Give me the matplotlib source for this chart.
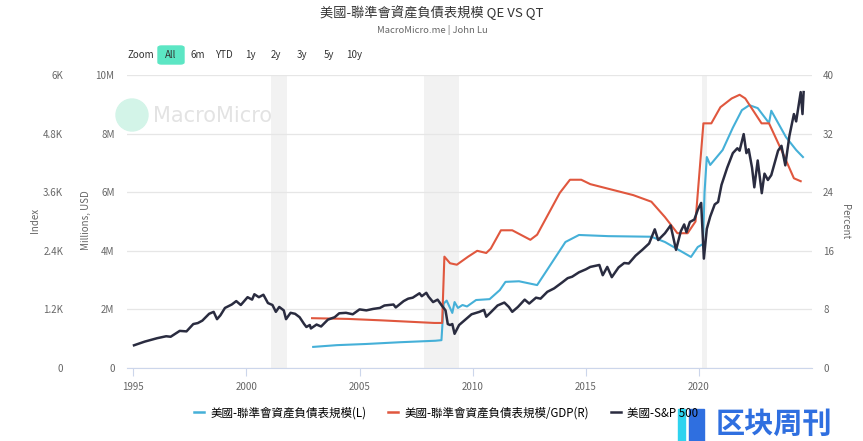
import matplotlib
matplotlib.use("Agg")
import matplotlib.pyplot as plt
from matplotlib.patches import Rectangle, Ellipse, FancyBboxPatch
from matplotlib.lines import Line2D
from matplotlib.ticker import FixedLocator

plt.rcParams["font.family"] = ["Noto Sans CJK TC", "DejaVu Sans"]

# S&P 500 (Index, left outer axis)
sp_years = [1995.03, 1995.5, 1996.05, 1996.45, 1996.65, 1997.05, 1997.35, 1997.65, 1997.85,
            1998.05, 1998.35, 1998.55, 1998.7, 1998.85, 1999.05, 1999.35, 1999.55, 1999.75,
            2000.05, 2000.25, 2000.35, 2000.55, 2000.75, 2000.95, 2001.15, 2001.3, 2001.45,
            2001.65, 2001.75, 2001.95, 2002.15, 2002.35, 2002.55, 2002.65, 2002.8, 2002.85,
            2003.1, 2003.3, 2003.6, 2003.9, 2004.1, 2004.4, 2004.7, 2005.0, 2005.3, 2005.6,
            2005.9, 2006.1, 2006.5, 2006.6, 2006.95, 2007.15, 2007.35, 2007.65, 2007.75,
            2007.95, 2008.05, 2008.25, 2008.45, 2008.65, 2008.8, 2008.9, 2009.0, 2009.1,
            2009.2, 2009.4, 2009.65, 2009.95, 2010.3, 2010.5, 2010.6, 2010.8, 2011.1, 2011.4,
            2011.6, 2011.75, 2012.0, 2012.3, 2012.5, 2012.8, 2013.0, 2013.3, 2013.6, 2013.95,
            2014.2, 2014.4, 2014.7, 2015.0, 2015.2, 2015.6, 2015.75, 2015.95, 2016.15, 2016.45,
            2016.7, 2016.9, 2017.2, 2017.5, 2017.8, 2018.05, 2018.2, 2018.5, 2018.75, 2018.99,
            2019.2, 2019.35, 2019.45, 2019.6, 2019.8, 2019.95, 2020.1, 2020.22, 2020.35, 2020.5,
            2020.7, 2020.85, 2021.0, 2021.25, 2021.5, 2021.7, 2021.8, 2021.98, 2022.1, 2022.2,
            2022.35, 2022.45, 2022.6, 2022.78, 2022.9, 2023.05, 2023.2, 2023.5, 2023.65,
            2023.82, 2024.0, 2024.2, 2024.3, 2024.5, 2024.58, 2024.63]
sp_vals = [465, 540, 610, 650, 640, 760, 750, 900, 920,
           970, 1110, 1150, 1000, 1080, 1230, 1300, 1370, 1290,
           1450, 1400, 1510, 1450, 1500, 1330, 1290, 1150, 1250,
           1180, 1000, 1130, 1110, 1040, 900, 840, 880, 810,
           890, 850, 990, 1040, 1120, 1130, 1100, 1200, 1180, 1210,
           1230, 1280, 1300, 1240, 1370, 1420, 1440, 1530, 1470,
           1540, 1460, 1350, 1400, 1270, 1180, 900, 880, 900,
           700, 880, 980, 1100, 1150, 1190, 1050, 1140, 1280, 1340,
           1250, 1150, 1250, 1400, 1320, 1440, 1420, 1560, 1630, 1750,
           1840, 1870, 1960, 2020, 2070, 2110, 1900, 2070, 1860, 2060,
           2150, 2140, 2300, 2420, 2550, 2840, 2620, 2760, 2920, 2420,
           2800, 2940, 2780, 2990, 3040, 3240, 3380, 2240, 2850, 3100,
           3350, 3400, 3750, 4100, 4400, 4500, 4450, 4790, 4400, 4480,
           4100, 3700, 4250, 3580, 3980, 3850, 3950, 4450, 4550,
           4150, 4750, 5200, 5050, 5650, 5200, 5650]

# Fed balance sheet size (millions USD, left inner axis)
fed_years = [2002.95, 2004.0, 2005.3, 2006.8, 2008.35, 2008.62, 2008.72, 2008.85, 2009.0,
             2009.1, 2009.2, 2009.35, 2009.55, 2009.75, 2010.15, 2010.75, 2011.2, 2011.45,
             2012.05, 2012.85, 2013.2, 2014.1, 2014.7, 2016.0, 2017.9, 2018.5, 2019.65,
             2019.95, 2020.18, 2020.25, 2020.35, 2020.5, 2021.05, 2021.5, 2021.9, 2022.23,
             2022.6, 2023.1, 2023.2, 2023.85, 2024.3, 2024.6]
fed_vals = [0.72e6, 0.78e6, 0.82e6, 0.88e6, 0.93e6, 0.95e6, 2.2e6, 2.3e6, 2.05e6,
            1.88e6, 2.25e6, 2.05e6, 2.15e6, 2.1e6, 2.32e6, 2.35e6, 2.66e6, 2.94e6,
            2.96e6, 2.83e6, 3.24e6, 4.3e6, 4.54e6, 4.5e6, 4.48e6, 4.3e6, 3.79e6,
            4.13e6, 4.23e6, 6.0e6, 7.2e6, 6.93e6, 7.44e6, 8.2e6, 8.8e6, 8.97e6,
            8.87e6, 8.36e6, 8.78e6, 7.88e6, 7.44e6, 7.2e6]

# Fed balance sheet / GDP (percent, right axis)
gdp_years = [2002.9, 2004.5, 2006.0, 2008.3, 2008.65, 2008.75, 2009.0, 2009.3, 2009.8,
             2010.2, 2010.6, 2010.8, 2011.25, 2011.75, 2012.55, 2012.85, 2013.85, 2014.3,
             2014.8, 2015.2, 2017.1, 2017.9, 2018.5, 2019.05, 2019.5, 2019.85, 2020.2,
             2020.55, 2020.95, 2021.45, 2021.8, 2022.05, 2022.77, 2023.1, 2023.7, 2024.2,
             2024.5]
gdp_vals = [6.8, 6.7, 6.5, 6.15, 6.15, 15.2, 14.3, 14.1, 15.2,
            16.0, 15.7, 16.3, 18.8, 18.8, 17.5, 18.2, 23.9, 25.7,
            25.7, 25.1, 23.6, 22.7, 20.6, 18.4, 18.4, 20.0, 33.4,
            33.4, 35.6, 36.8, 37.3, 36.8, 33.4, 33.4, 29.4, 25.9,
            25.5]

recessions = [(2001.1, 2001.8), (2007.85, 2009.4), (2020.12, 2020.36)]
year_ticks = [1995, 2000, 2005, 2010, 2015, 2020]

label_names = ["美國-聯準會資產負債表規模(L)", "美國-聯準會資產負債表規模/GDP(R)", "美國-S&P 500"]
c_blue = "#45b0d8"
c_red = "#e0573e"
c_dark = "#2a2c40"
grey = "#666666"

fig = plt.figure(figsize=(8.63, 4.41), dpi=100)
W, H = 863, 441
ax = fig.add_axes([127 / W, 1 - 368 / H, 685 / W, 293 / H])
ax_pct = ax.twinx()
ax_idx = ax.twinx()

for a in (ax, ax_pct, ax_idx):
    for s in a.spines.values():
        s.set_visible(False)
    a.set_xlim(1994.72, 2025.0)

for lo, hi in recessions:
    ax.axvspan(lo, hi, color="#f2f2f2", zorder=0, lw=0)

ax.set_ylim(0, 10e6)
ax.yaxis.set_major_locator(FixedLocator([0, 2e6, 4e6, 6e6, 8e6, 10e6]))
ax.set_yticklabels(["0", "2M", "4M", "6M", "8M", "10M"])
ax.grid(axis="y", color="#e6e6e6", lw=0.9, zorder=1)
ax.set_axisbelow(True)
ax.tick_params(axis="y", length=0, pad=9, labelsize=7, labelcolor=grey)
ax.spines["bottom"].set_visible(True)
ax.spines["bottom"].set_color("#ccd6eb")
ax.set_xticks(year_ticks)
ax.set_xticklabels([str(y) for y in year_ticks])
ax.tick_params(axis="x", length=6, color="#ccd6eb", labelsize=7, labelcolor=grey, pad=4)

ax_pct.set_ylim(0, 40)
ax_pct.set_yticks([0, 8, 16, 24, 32, 40])
ax_pct.tick_params(axis="y", length=0, pad=8, labelsize=7, labelcolor=grey)

ax_idx.set_ylim(0, 6000)
ax_idx.set_yticks([0, 1200, 2400, 3600, 4800, 6000])
ax_idx.set_yticklabels(["0", "1.2K", "2.4K", "3.6K", "4.8K", "6K"])
ax_idx.yaxis.tick_left()
ax_idx.tick_params(axis="y", length=0, pad=46, labelsize=7, labelcolor=grey)

ax.plot(fed_years, fed_vals, color=c_blue, lw=1.5, zorder=3)
ax_pct.plot(gdp_years, gdp_vals, color=c_red, lw=1.5)
ax_idx.plot(sp_years, sp_vals, color=c_dark, lw=1.8)

# watermark
fig.patches.append(Ellipse((132 / W, 1 - 115 / H), 32 / W, 32 / H, transform=fig.transFigure,
                           color="#d3f4e8", zorder=0))
fig.text(153 / W, 1 - 116 / H, "MacroMicro", fontsize=15, color="#e3e3e3",
         va="center", ha="left", family="DejaVu Sans")

# titles
fig.text(432 / W, 1 - 13 / H, "美國-聯準會資產負債表規模 QE VS QT", fontsize=9.5,
         color="#333333", ha="center", va="center")
fig.text(432 / W, 1 - 30 / H, "MacroMicro.me | John Lu", fontsize=6.8,
         color=grey, ha="center", va="center")

# axis titles
fig.text(35 / W, 1 - 220 / H, "Index", rotation=90, fontsize=7, color=grey,
         ha="center", va="center")
fig.text(86 / W, 1 - 220 / H, "Millions, USD", rotation=90, fontsize=7, color=grey,
         ha="center", va="center")
fig.text(845 / W, 1 - 222 / H, "Percent", rotation=270, fontsize=7, color=grey,
         ha="center", va="center")

# range selector
fig.patches.append(FancyBboxPatch((158 / W, 1 - 64 / H), 26 / W, 18 / H,
                                  boxstyle="round,pad=0,rounding_size=0.004",
                                  transform=fig.transFigure, color="#5ce6c4", zorder=0))
for xpos, txt in [(141, "Zoom"), (171, "All"), (198, "6m"), (224, "YTD"), (250, "1y"),
                  (276, "2y"), (302, "3y"), (329, "5y"), (354, "10y")]:
    fig.text(xpos / W, 1 - 55 / H, txt, fontsize=7, color="#333333",
             ha="center", va="center")

# legend
handles = [Line2D([], [], color=c, lw=1.8) for c in (c_blue, c_red, c_dark)]
fig.legend(handles, label_names, loc="center", bbox_to_anchor=(446 / W, 1 - 413 / H),
           ncol=3, frameon=False, fontsize=8.3, handlelength=0.9, handletextpad=0.5,
           columnspacing=1.9)

# corner logo
fig.patches.append(Rectangle((678 / W, 1 - 441 / H), 7 / W, 32 / H,
                             transform=fig.transFigure, color="#2ed3ef", zorder=5))
fig.patches.append(Rectangle((689 / W, 1 - 441 / H), 15 / W, 32 / H,
                             transform=fig.transFigure, color="#2f6fe0", zorder=5))
fig.text(716 / W, 1 - 424 / H, "区块周刊", fontsize=21, color="#2f6fe0",
         ha="left", va="center", family=["Noto Sans CJK SC", "DejaVu Sans"],
         weight="bold", zorder=6)

fig.savefig("out.png", dpi=100, facecolor="white")
